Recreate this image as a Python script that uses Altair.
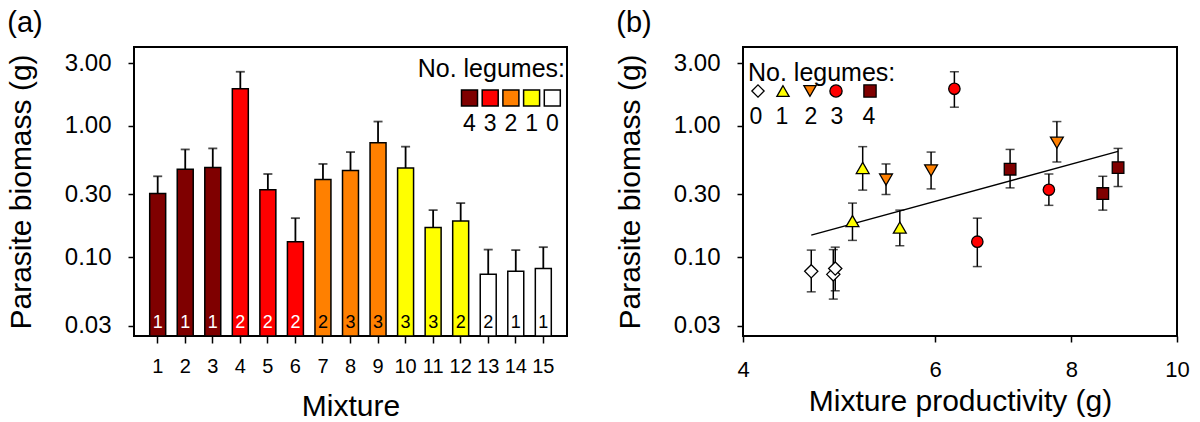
import altair as alt
import pandas as pd

# ---------------- data ----------------
mixture = list(range(1, 16))
n_legumes = [4, 4, 4, 3, 3, 3, 2, 2, 2, 1, 1, 1, 0, 0, 0]
biomass = [0.305, 0.468, 0.481, 1.92, 0.326, 0.131, 0.390, 0.458, 0.745,
           0.478, 0.168, 0.188, 0.0738, 0.0779, 0.0817]
biomass_upper = [0.413, 0.662, 0.674, 2.59, 0.430, 0.198, 0.513, 0.632, 1.08,
                 0.695, 0.228, 0.258, 0.114, 0.113, 0.119]
biomass_lower = [0.228, 0.337, 0.345, 1.39, 0.248, 0.0846, 0.300, 0.331, 0.531,
                 0.324, 0.122, 0.134, 0.0478, 0.0543, 0.0553]
productivity = [8.55, 7.03, 8.83, 6.25, 7.63, 6.56, 5.41, 5.95, 7.76,
                5.15, 5.57, 5.04, 4.84, 4.62, 4.86]
bar_numbers = [1, 1, 1, 2, 2, 2, 2, 3, 3, 3, 3, 2, 2, 1, 1]
fit_productivity = [4.62, 8.83]
fit_biomass = [0.147, 0.640]
legend_levels_a = [4, 3, 2, 1, 0]
legend_levels_b = [0, 1, 2, 3, 4]
y_ticks = [0.03, 0.10, 0.30, 1.00, 3.00]
x_ticks_b = [4, 6, 8, 10]

# ---------------- styles ----------------
FONT = "Liberation Sans"
level_fill = {4: "#7F0000", 3: "#FF0000", 2: "#FF8000", 1: "#FFFF00", 0: "#FFFFFF"}
level_text = {4: "white", 3: "white", 2: "black", 1: "black", 0: "black"}
level_shape = {0: "diamond", 1: "triangle-up", 2: "triangle-down", 3: "circle", 4: "square"}
level_size = {0: 175, 1: 165, 2: 165, 3: 130, 4: 135}

W, H = 433, 289

df = pd.DataFrame({
    "mixture": mixture,
    "legumes": n_legumes,
    "biomass": biomass,
    "upper": biomass_upper,
    "lower": biomass_lower,
    "productivity": productivity,
    "num": bar_numbers,
})
df["fill"] = df["legumes"].map(level_fill)
df["tcolor"] = df["legumes"].map(level_text)
df["shape"] = df["legumes"].map(level_shape)
df["msize"] = df["legumes"].map(level_size)

fit_df = pd.DataFrame({"productivity": fit_productivity, "biomass": fit_biomass})
one = pd.DataFrame({"k": [0]})

yscale = alt.Scale(type="log", domain=[0.025, 4], nice=False)


def y_axis():
    return alt.Axis(values=y_ticks, format=".2f", title="Parasite biomass (g)",
                    tickSize=6, tickWidth=1.5, tickColor="black",
                    labelFontSize=24, labelPadding=17, labelFont=FONT, labelColor="black",
                    labelFlush=False, labelOverlap=False,
                    titleFontSize=30, titlePadding=28, titleFont=FONT, titleColor="black",
                    titleFontWeight="normal", grid=False, domain=False)


def Y(field):
    return alt.Y(field, type="quantitative", scale=yscale, axis=y_axis())


xa_axis = alt.Axis(title="Mixture", labelAngle=0, tickSize=7, tickWidth=1.5, tickColor="black",
                   labelFontSize=20, labelPadding=13, labelFont=FONT, labelColor="black",
                   titleFontSize=30, titlePadding=15, titleFont=FONT, titleColor="black",
                   titleFontWeight="normal", grid=False, domain=False)
xa = alt.X("mixture:O", scale=alt.Scale(paddingInner=0.42, paddingOuter=0.57), axis=xa_axis)

xb_scale = alt.Scale(type="log", domain=[4, 10], nice=False)
xb_axis = alt.Axis(values=x_ticks_b, format="d", title="Mixture productivity (g)",
                   tickSize=6, tickWidth=1.5, tickColor="black",
                   labelFontSize=22, labelPadding=17, labelFont=FONT, labelColor="black",
                   labelFlush=False, labelOverlap=False,
                   titleFontSize=30, titlePadding=6, titleFont=FONT, titleColor="black",
                   titleFontWeight="normal", grid=False, domain=False)


def XB(field):
    return alt.X(field, type="quantitative", scale=xb_scale, axis=xb_axis)


def panel_title(t):
    return alt.TitleParams(t, anchor="start", frame="bounds", fontSize=29, font=FONT,
                           fontWeight="normal", baseline="top", offset=9, dx=1, color="black")


# ---------------- panel (a) ----------------
base_a = alt.Chart(df)
bars = base_a.mark_bar(stroke="black", strokeWidth=1.5, opacity=1).encode(
    x=xa, y=Y("biomass"), y2=alt.datum(0.025), fill=alt.Fill("fill:N", scale=None))
err_a = base_a.mark_rule(color="black", strokeWidth=1.8).encode(
    x=xa, y=Y("biomass"), y2="upper:Q")
cap_a = base_a.mark_tick(color="black", orient="horizontal", size=9, thickness=1.8).encode(
    x=xa, y=Y("upper"))
nums = base_a.mark_text(fontSize=18, font=FONT, baseline="middle").encode(
    x=xa, y=alt.value(276), text="num:N", color=alt.Color("tcolor:N", scale=None))

layers_a = [bars, err_a, cap_a, nums]
layers_a.append(alt.Chart(one).mark_text(fontSize=25, font=FONT, align="right", baseline="middle",
                                         color="black").encode(
    x=alt.value(431), y=alt.value(22), text=alt.value("No. legumes:")))
for i, lvl in enumerate(legend_levels_a):
    px = 335.5 + 20.7 * i
    layers_a.append(alt.Chart(one).mark_square(size=256, fill=level_fill[lvl], stroke="black",
                                               strokeWidth=1.5, opacity=1).encode(
        x=alt.value(px), y=alt.value(51)))
    layers_a.append(alt.Chart(one).mark_text(fontSize=23, font=FONT, align="center",
                                             baseline="middle", color="black").encode(
        x=alt.value(px), y=alt.value(77), text=alt.value(str(lvl))))

panel_a = alt.layer(*layers_a).properties(width=W, height=H, title=panel_title("(a)"))

# ---------------- panel (b) ----------------
base_b = alt.Chart(df)
fit = alt.Chart(fit_df).mark_line(color="black", strokeWidth=1.5).encode(
    x=XB("productivity"), y=Y("biomass"))
err_b = base_b.mark_rule(color="black", strokeWidth=1.5).encode(
    x=XB("productivity"), y=Y("lower"), y2="upper:Q")
cap_lo = base_b.mark_tick(color="black", orient="horizontal", size=9, thickness=1.5).encode(
    x=XB("productivity"), y=Y("lower"))
cap_hi = base_b.mark_tick(color="black", orient="horizontal", size=9, thickness=1.5).encode(
    x=XB("productivity"), y=Y("upper"))
pts = base_b.mark_point(filled=True, stroke="black", strokeWidth=1.3, opacity=1).encode(
    x=XB("productivity"), y=Y("biomass"),
    shape=alt.Shape("shape:N", scale=None),
    fill=alt.Fill("fill:N", scale=None),
    size=alt.Size("msize:Q", scale=None))

layers_b = [fit, err_b, cap_lo, cap_hi, pts]
layers_b.append(alt.Chart(one).mark_text(fontSize=25, font=FONT, align="left", baseline="middle",
                                         color="black").encode(
    x=alt.value(5), y=alt.value(26), text=alt.value("No. legumes:")))
leg_sym_x = [15, 40, 67, 93, 127]
leg_lab_x = [13, 39, 68, 94, 126]
for lvl, sx, lx in zip(legend_levels_b, leg_sym_x, leg_lab_x):
    layers_b.append(alt.Chart(one).mark_point(filled=True, shape=level_shape[lvl], size=150,
                                              fill=level_fill[lvl], stroke="black",
                                              strokeWidth=1.3, opacity=1).encode(
        x=alt.value(sx), y=alt.value(44)))
    layers_b.append(alt.Chart(one).mark_text(fontSize=23, font=FONT, align="center",
                                             baseline="middle", color="black").encode(
        x=alt.value(lx), y=alt.value(69.5), text=alt.value(str(lvl))))

panel_b = alt.layer(*layers_b).properties(width=434, height=H, title=panel_title("(b)"))

chart = alt.hconcat(panel_a, panel_b, spacing=46).properties(
    padding={"left": 5, "top": 8, "right": 5, "bottom": 0}
).configure_view(stroke="black", strokeWidth=2)

chart.save("out.html", embed_options={"renderer": "svg", "actions": False})
